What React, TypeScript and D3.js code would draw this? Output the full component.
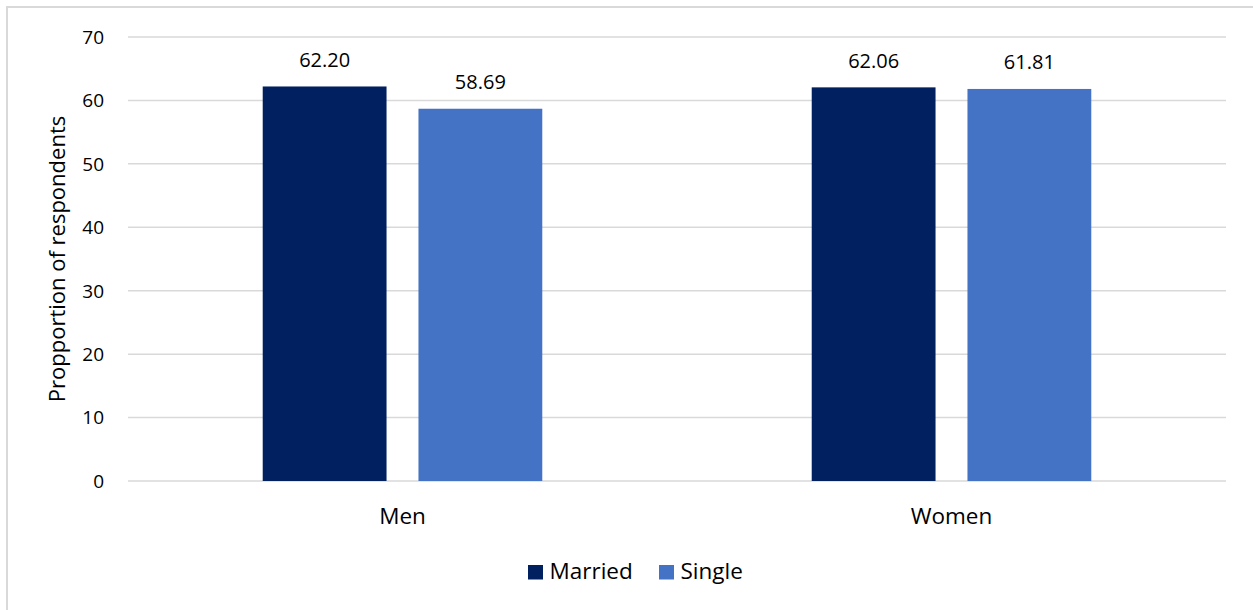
import React from "react";
import * as d3 from "d3";

const categories = ["Men", "Women"];
const seriesNames = ["Married", "Single"];
const married = [62.2, 62.06];
const single = [58.69, 61.81];
const yTicks = [0, 10, 20, 30, 40, 50, 60, 70];
const colors = ["#002060", "#4472C4"];

const W = 1253;
const H = 610;
const FONT = "'Open Sans', 'Noto Sans', sans-serif";

export default function App() {
  const left = 128;
  const right = 1226;
  const top = 37;
  const bottom = 481;

  const x = d3.scaleBand<string>().domain(categories).range([left, right]).paddingInner(0).paddingOuter(0);
  const inner = d3
    .scaleBand<string>()
    .domain(seriesNames)
    .range([0, x.bandwidth()])
    .paddingInner(0.205)
    .paddingOuter(0.865);
  const y = d3.scaleLinear().domain([0, 70]).range([bottom, top]);

  const values = [married, single];

  return (
    <svg
      width={W}
      height={H}
      style={{ position: "absolute", left: 0, top: 0, display: "block", background: "#fff" }}
      fontFamily={FONT}
    >
      <rect x={7} y={7} width={W + 10} height={H + 10} fill="#fff" stroke="#d9d9d9" strokeWidth={2} />
      {yTicks.map((t) => (
        <g key={t}>
          <line x1={left} x2={right} y1={y(t)} y2={y(t)} stroke="#d9d9d9" strokeWidth={1.5} />
          <text x={104} y={y(t)} dy="0.36em" textAnchor="end" fontSize={19} fill="#000">
            {t}
          </text>
        </g>
      ))}
      {categories.map((c, ci) => (
        <g key={c}>
          {seriesNames.map((s, si) => {
            const v = values[si][ci];
            const bx = (x(c) as number) + (inner(s) as number);
            return (
              <g key={s}>
                <rect x={bx} y={y(v)} width={inner.bandwidth()} height={bottom - y(v)} fill={colors[si]} />
                <text
                  x={bx + inner.bandwidth() / 2}
                  y={y(v) - 19.5}
                  textAnchor="middle"
                  fontSize={20}
                  fill="#000"
                >
                  {v.toFixed(2)}
                </text>
              </g>
            );
          })}
          <text x={(x(c) as number) + x.bandwidth() / 2} y={524} textAnchor="middle" fontSize={22.5} fill="#000">
            {c}
          </text>
        </g>
      ))}
      <text
        transform={`translate(65, ${(top + bottom) / 2}) rotate(-90)`}
        textAnchor="middle"
        fontSize={22}
        fill="#000"
      >
        Propportion of respondents
      </text>
      {seriesNames.map((s, i) => {
        const lx = [528, 659][i];
        return (
          <g key={s}>
            <rect x={lx} y={565} width={15} height={14.5} fill={colors[i]} />
            <text x={lx + 21.5} y={579} fontSize={22.5} fill="#000">
              {s}
            </text>
          </g>
        );
      })}
    </svg>
  );
}
